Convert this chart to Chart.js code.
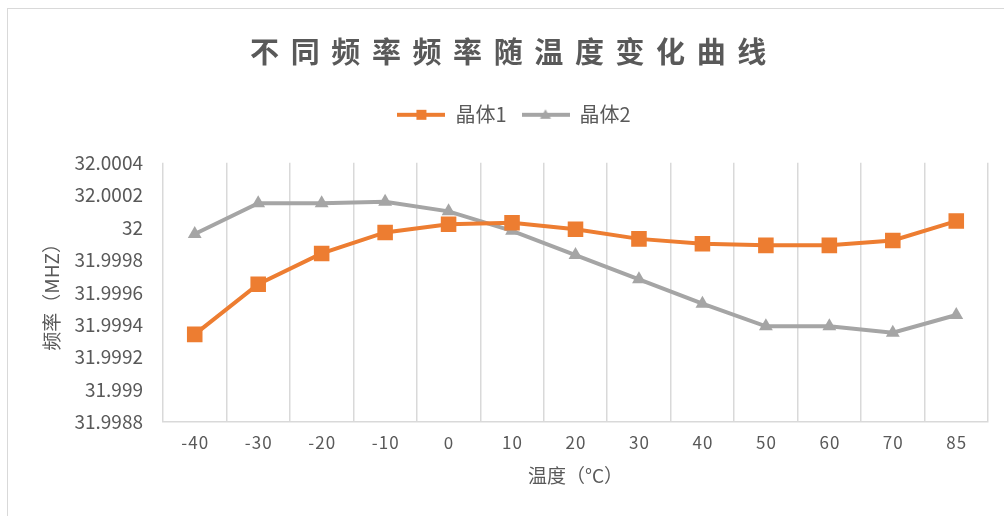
<!DOCTYPE html>
<html>
<head>
<meta charset="utf-8">
<script src="https://cdn.jsdelivr.net/npm/chart.js@4/dist/chart.umd.min.js"></script>
<style>
  html, body { margin: 0; padding: 0; background: #fff; }
  #marco { position: absolute; left: 7px; top: 8px; width: 1100px; height: 600px; border: 1.5px solid #d9d9d9; }
  #caja { position: absolute; left: 0; top: 0; width: 1004px; height: 516px; }
</style>
</head>
<body>
<div id="marco"></div>
<div id="caja"><canvas id="cuadro" width="1004" height="516"></canvas></div>
<script>
// temperaturas (eje x)
const temperaturas = ["-40", "-30", "-20", "-10", "0", "10", "20", "30", "40", "50", "60", "70", "85"];
// frecuencias (MHz)
const cristal1 = [31.99934, 31.99965, 31.99984, 31.99997, 32.00002, 32.00003, 31.99999, 31.99993, 31.9999, 31.99989, 31.99989, 31.99992, 32.00004];
const cristal2 = [31.99996, 32.00015, 32.00015, 32.00016, 32.0001, 31.99998, 31.99983, 31.99968, 31.99953, 31.99939, 31.99939, 31.99935, 31.99946];
const y_min = 31.9988;
const y_max = 32.0004;
const y_paso = 0.0002;

const titulo = "不同频率频率随温度变化曲线";
const nombres = ["晶体1", "晶体2"];
const colores = ["#ED7D31", "#A5A5A5"];

const gris_texto = "#595959";
const fuente = "'Noto Sans CJK SC', 'Noto Sans', sans-serif";

// separa los caracteres con espacios, como en la figura
function espaciar(txt, sep) {
  return txt.split("").join(sep);
}

// icono de leyenda: linea con marcador
function icono(color, forma) {
  const c = document.createElement("canvas");
  c.width = 48;
  c.height = 14;
  const g = c.getContext("2d");
  g.strokeStyle = color;
  g.fillStyle = color;
  g.lineWidth = 4;
  g.beginPath();
  g.moveTo(0, 7);
  g.lineTo(48, 7);
  g.stroke();
  g.beginPath();
  if (forma == "rect") {
    g.rect(19, 2, 10, 10);
  } else {
    g.moveTo(24, 1.5);
    g.lineTo(29.5, 11);
    g.lineTo(18.5, 11);
    g.closePath();
  }
  g.fill();
  return c;
}
const iconos = [icono(colores[0], "rect"), icono(colores[1], "triangle")];

// caja vacia entre la leyenda y el grafico
const espaciador = {
  id: "espaciador",
  beforeInit(chart) {
    Chart.layouts.addBox(chart, {
      position: "top",
      weight: 100,
      fullSize: true,
      options: {},
      isHorizontal() { return true; },
      update(w, h) {
        this.width = w;
        this.height = 28;
      },
      draw() {}
    });
  }
};

const ctx = document.getElementById("cuadro");

let cuadro = new Chart(ctx, {
  type: "line",
  data: {
    labels: temperaturas,
    datasets: [
      {
        label: nombres[0],
        data: cristal1,
        borderColor: colores[0],
        backgroundColor: colores[0],
        borderWidth: 4,
        pointStyle: "rect",
        pointRadius: 11,
        pointHoverRadius: 11,
        pointBorderWidth: 0,
        tension: 0
      },
      {
        label: nombres[1],
        data: cristal2,
        borderColor: colores[1],
        backgroundColor: colores[1],
        borderWidth: 4,
        pointStyle: "triangle",
        pointRadius: 8,
        pointHoverRadius: 8,
        pointBorderWidth: 0,
        tension: 0
      }
    ]
  },
  plugins: [espaciador],
  options: {
    responsive: false,
    animation: false,
    layout: { padding: { left: 40, right: 16, top: 0, bottom: 29 } },
    plugins: {
      title: {
        display: true,
        text: espaciar(titulo, "\u2009\u2009") + "\u2009\u2009",
        color: gris_texto,
        font: { family: fuente, size: 29, weight: "bold" },
        padding: { top: 35, bottom: 20 }
      },
      legend: {
        display: true,
        labels: {
          color: gris_texto,
          font: { family: fuente, size: 20 },
          usePointStyle: true,
          pointStyleWidth: 48,
          boxHeight: 14,
          padding: 15,
          generateLabels: function(chart) {
            const items = Chart.defaults.plugins.legend.labels.generateLabels(chart);
            items.forEach((it, i) => { it.pointStyle = iconos[i]; });
            return items;
          }
        }
      },
      tooltip: { enabled: false }
    },
    scales: {
      x: {
        offset: true,
        grid: { display: true, offset: true, color: "#d9d9d9", lineWidth: 1.5, drawTicks: false },
        border: { display: true, color: "#d9d9d9", width: 1.5 },
        ticks: {
          color: gris_texto,
          font: { family: fuente, size: 17 },
          padding: 11,
          maxRotation: 0,
          autoSkip: false,
          callback: function(valor, i) {
            return espaciar(this.getLabelForValue(valor), "\u200a");
          }
        },
        title: {
          display: true,
          text: "温度（°C）",
          color: gris_texto,
          font: { family: fuente, size: 19 },
          padding: { top: 0, bottom: 0 }
        }
      },
      y: {
        min: y_min,
        max: y_max,
        grid: { display: false, drawTicks: false },
        border: { display: false },
        afterFit: function(escala) { escala.width = 123; },
        ticks: {
          stepSize: y_paso,
          color: gris_texto,
          font: { family: fuente, size: 19 },
          padding: 20,
          callback: function(valor) {
            return parseFloat(valor.toFixed(4)).toString();
          }
        },
        title: {
          display: true,
          text: "频率（MHZ）",
          color: gris_texto,
          font: { family: fuente, size: 19 },
          padding: { top: 0, bottom: 0 }
        }
      }
    }
  }
});
</script>
</body>
</html>
